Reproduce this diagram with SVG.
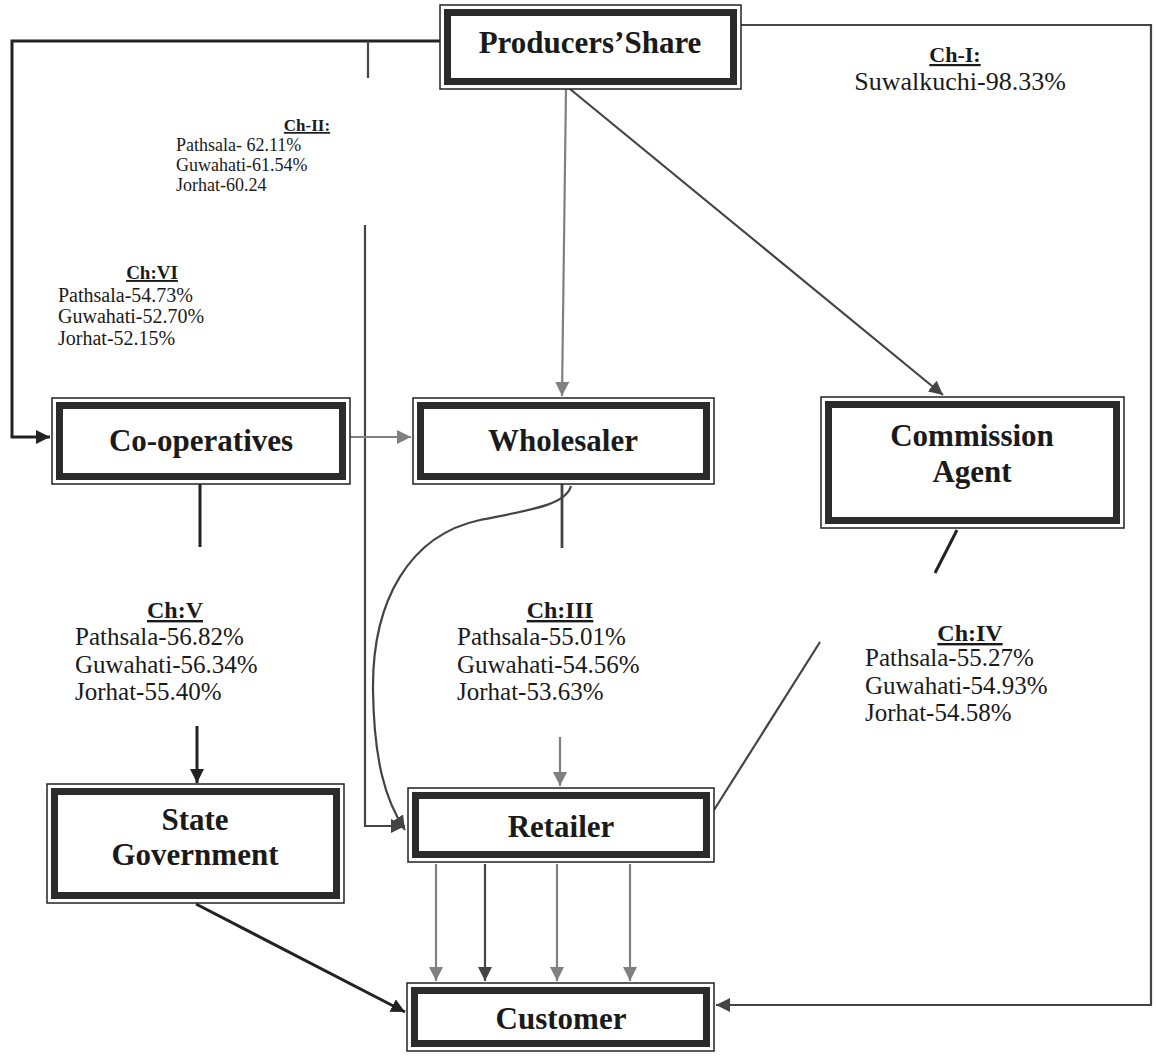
<svg xmlns="http://www.w3.org/2000/svg" width="1156" height="1057" viewBox="0 0 1156 1057">
<style>
.outer{fill:#fff;stroke:#222;stroke-width:1.5}
.inner{fill:none;stroke:#2b2b2b;stroke-width:7}
.nl{font-family:"Liberation Serif","Times New Roman",serif;font-weight:bold;font-size:31px;fill:#1a1a1a;text-anchor:middle}
.hd{font-family:"Liberation Serif","Times New Roman",serif;font-weight:bold;fill:#1a1a1a;text-anchor:middle;text-decoration:underline}
.tx{font-family:"Liberation Serif","Times New Roman",serif;fill:#1a1a1a}
.dk{fill:none;stroke:#222;stroke-width:3}
.md{fill:none;stroke:#444;stroke-width:2.2}
.gr{fill:none;stroke:#808080;stroke-width:2.2}
</style>
<defs>
<marker id="ad" markerUnits="userSpaceOnUse" markerWidth="16" markerHeight="14" refX="14" refY="7" orient="auto"><path d="M0,0 L14,7 L0,14 Z" fill="#222"/></marker>
<marker id="am" markerUnits="userSpaceOnUse" markerWidth="16" markerHeight="14" refX="14" refY="7" orient="auto"><path d="M0,0 L14,7 L0,14 Z" fill="#444"/></marker>
<marker id="ag" markerUnits="userSpaceOnUse" markerWidth="16" markerHeight="14" refX="14" refY="7" orient="auto"><path d="M0,0 L14,7 L0,14 Z" fill="#808080"/></marker>
</defs>
<rect width="1156" height="1057" fill="#fff"/>
<g id="connectors">
<path class="dk" d="M440 41 H12 V437 H50" marker-end="url(#ad)"/>
<path class="md" d="M368 41 V78"/>
<path class="md" d="M365 225 V826 H405" marker-end="url(#am)"/>
<path class="gr" d="M566 89 L562 396" marker-end="url(#ag)"/>
<path class="md" d="M570 89 L943 395" marker-end="url(#am)"/>
<path class="md" d="M741 25 H1151 V1005 H716" marker-end="url(#am)"/>
<path class="gr" d="M350 437 H411" marker-end="url(#ag)"/>
<path class="dk" d="M200 484 V547"/>
<path class="dk" d="M197 726 V783" marker-end="url(#ad)"/>
<path class="md" d="M562 484 V548" style="stroke-width:2.8"/>
<path class="md" d="M571 486 C566 505 530 510 480 520 C410 535 372 600 373 690 C374 760 385 800 405 830" marker-end="url(#am)"/>
<path class="gr" d="M560 737 V786" marker-end="url(#ag)"/>
<path class="dk" d="M957 530 L935 573"/>
<path class="md" d="M820 642 L714 810"/>
<path class="gr" d="M436 864 V981" marker-end="url(#ag)"/>
<path class="md" d="M485 864 V981" marker-end="url(#am)"/>
<path class="gr" d="M557 864 V981" marker-end="url(#ag)"/>
<path class="gr" d="M630 864 V981" marker-end="url(#ag)"/>
<path class="dk" d="M196 904 L405 1012" marker-end="url(#ad)"/>
</g>
<g id="producers">
<rect class="outer" x="440" y="5" width="301" height="84"/>
<rect class="inner" x="447.5" y="12.5" width="286" height="69"/>
<text class="nl" x="590" y="53">Producers’Share</text>
</g>
<g id="cooperatives">
<rect class="outer" x="52" y="398" width="298" height="86"/>
<rect class="inner" x="59.5" y="405.5" width="283" height="71"/>
<text class="nl" x="201" y="451">Co-operatives</text>
</g>
<g id="wholesaler">
<rect class="outer" x="413" y="398" width="301" height="86"/>
<rect class="inner" x="420.5" y="405.5" width="286" height="71"/>
<text class="nl" x="563" y="451">Wholesaler</text>
</g>
<g id="commission">
<rect class="outer" x="821" y="397" width="303" height="131"/>
<rect class="inner" x="828.5" y="404.5" width="288" height="116"/>
<text class="nl" x="972" y="446">Commission</text>
<text class="nl" x="972" y="482">Agent</text>
</g>
<g id="stategov">
<rect class="outer" x="47" y="784" width="297" height="119"/>
<rect class="inner" x="54.5" y="791.5" width="282" height="104"/>
<text class="nl" x="195" y="830">State</text>
<text class="nl" x="195" y="865">Government</text>
</g>
<g id="retailer">
<rect class="outer" x="408" y="788" width="306" height="74"/>
<rect class="inner" x="415.5" y="795.5" width="291" height="59"/>
<text class="nl" x="561" y="837">Retailer</text>
</g>
<g id="customer">
<rect class="outer" x="407" y="983" width="307" height="68"/>
<rect class="inner" x="414.5" y="990.5" width="292" height="53"/>
<text class="nl" x="561" y="1029">Customer</text>
</g>
<g id="label-ch1">
<text class="hd" x="955" y="62" font-size="22">Ch-I:</text>
<text class="tx" x="960" y="90" font-size="26" text-anchor="middle">Suwalkuchi-98.33%</text>
</g>
<g id="label-ch2">
<text class="hd" x="307" y="131" font-size="17">Ch-II:</text>
<text class="tx" x="176" y="151" font-size="18">Pathsala- 62.11%</text>
<text class="tx" x="176" y="171" font-size="18">Guwahati-61.54%</text>
<text class="tx" x="176" y="191" font-size="18">Jorhat-60.24</text>
</g>
<g id="label-ch6">
<text class="hd" x="152" y="279" font-size="19">Ch:VI</text>
<text class="tx" x="58" y="302" font-size="20">Pathsala-54.73%</text>
<text class="tx" x="58" y="323" font-size="20">Guwahati-52.70%</text>
<text class="tx" x="58" y="345" font-size="20">Jorhat-52.15%</text>
</g>
<g id="label-ch5">
<text class="hd" x="175" y="618" font-size="24">Ch:V</text>
<text class="tx" x="75" y="645" font-size="25">Pathsala-56.82%</text>
<text class="tx" x="75" y="673" font-size="25">Guwahati-56.34%</text>
<text class="tx" x="75" y="700" font-size="25">Jorhat-55.40%</text>
</g>
<g id="label-ch3">
<text class="hd" x="560" y="618" font-size="24">Ch:III</text>
<text class="tx" x="457" y="645" font-size="25">Pathsala-55.01%</text>
<text class="tx" x="457" y="673" font-size="25">Guwahati-54.56%</text>
<text class="tx" x="457" y="700" font-size="25">Jorhat-53.63%</text>
</g>
<g id="label-ch4">
<text class="hd" x="970" y="641" font-size="24">Ch:IV</text>
<text class="tx" x="865" y="666" font-size="25">Pathsala-55.27%</text>
<text class="tx" x="865" y="694" font-size="25">Guwahati-54.93%</text>
<text class="tx" x="865" y="721" font-size="25">Jorhat-54.58%</text>
</g>
</svg>
